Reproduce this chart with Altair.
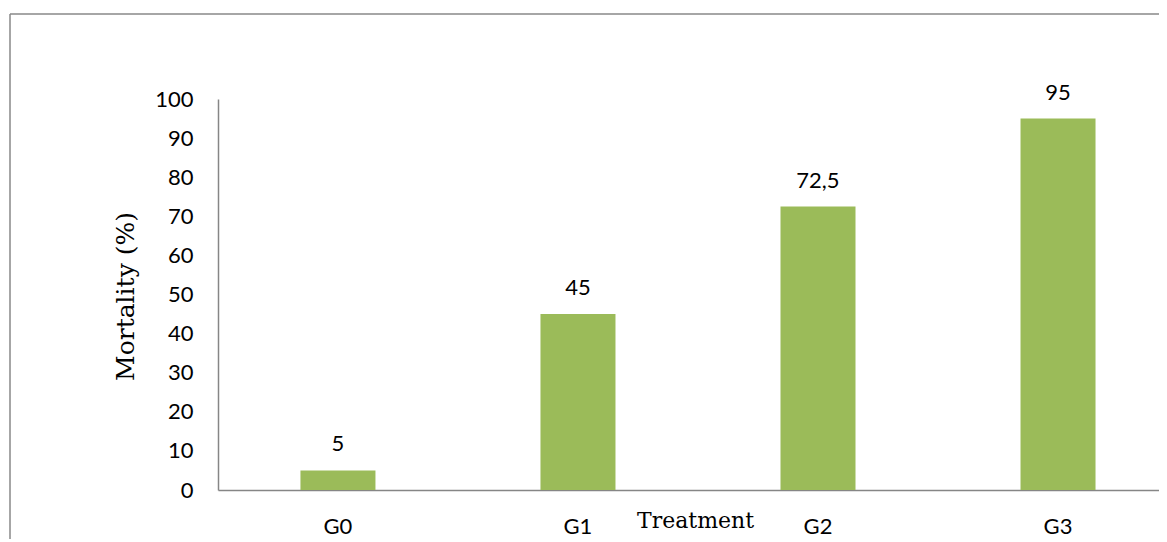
import altair as alt
import pandas as pd

groups = ["G0", "G1", "G2", "G3"]
mortality = [5, 45, 72.5, 95]
value_labels = ["5", "45", "72,5", "95"]
y_ticks = [0, 10, 20, 30, 40, 50, 60, 70, 80, 90, 100]

df = pd.DataFrame({"group": groups, "mortality": mortality, "label": value_labels})
frame_df = pd.DataFrame({"k": [0]})

SANS = "Lato"
SERIF = "DejaVu Serif"
AXIS_GRAY = "#868686"

x_enc = alt.X(
    "group:N",
    sort=groups,
    scale=alt.Scale(paddingInner=0.6875, paddingOuter=0.304, align=0.565),
    axis=alt.Axis(
        title="Treatment",
        titleFont=SERIF,
        titleFontSize=22,
        titleFontWeight="normal",
        titleColor="black",
        titleX=477,
        titleY=37,
        titleBaseline="alphabetic",
        labelFont=SANS,
        labelFontSize=22,
        labelColor="black",
        labelAngle=0,
        labelBaseline="alphabetic",
        labelPadding=43,
        labelOverlap=False,
        ticks=False,
        tickSize=0,
        domainColor=AXIS_GRAY,
        domainWidth=1.5,
        grid=False,
    ),
)

y_enc = alt.Y(
    "mortality:Q",
    scale=alt.Scale(domain=[0, 100], nice=False),
    axis=alt.Axis(
        title="Mortality (%)",
        titleFont=SERIF,
        titleFontSize=25,
        titleFontWeight="normal",
        titleColor="black",
        titleX=-93,
        titleY=197,
        titleBaseline="middle",
        titleAngle=270,
        values=y_ticks,
        labelFont=SANS,
        labelFontSize=22,
        labelColor="black",
        labelPadding=25,
        labelOverlap=False,
        ticks=False,
        tickSize=0,
        domainColor=AXIS_GRAY,
        domainWidth=1.5,
        grid=False,
    ),
)

bars = alt.Chart(df).mark_bar(color="#9BBB59").encode(x=x_enc, y=y_enc)

texts = alt.Chart(df).mark_text(
    font=SANS, fontSize=22, color="black", baseline="alphabetic", dy=-19
).encode(x=x_enc, y=y_enc, text="label:N")

top_rule = alt.Chart(frame_df).mark_rule(color="#898989", strokeWidth=1.5).encode(
    x=alt.value(-208), x2=alt.value(941), y=alt.value(-85)
)
left_rule = alt.Chart(frame_df).mark_rule(color="#898989", strokeWidth=1.5).encode(
    x=alt.value(-208), y=alt.value(-85), y2=alt.value(443)
)

chart = (
    alt.layer(bars, texts, top_rule, left_rule)
    .properties(
        width=941,
        height=391,
        autosize=alt.AutoSizeParams(type="none"),
        padding={"left": 210, "top": 91, "right": 0, "bottom": 49},
    )
    .configure_view(stroke=None)
)

chart.save("out.html", embed_options={"renderer": "svg", "actions": False})
